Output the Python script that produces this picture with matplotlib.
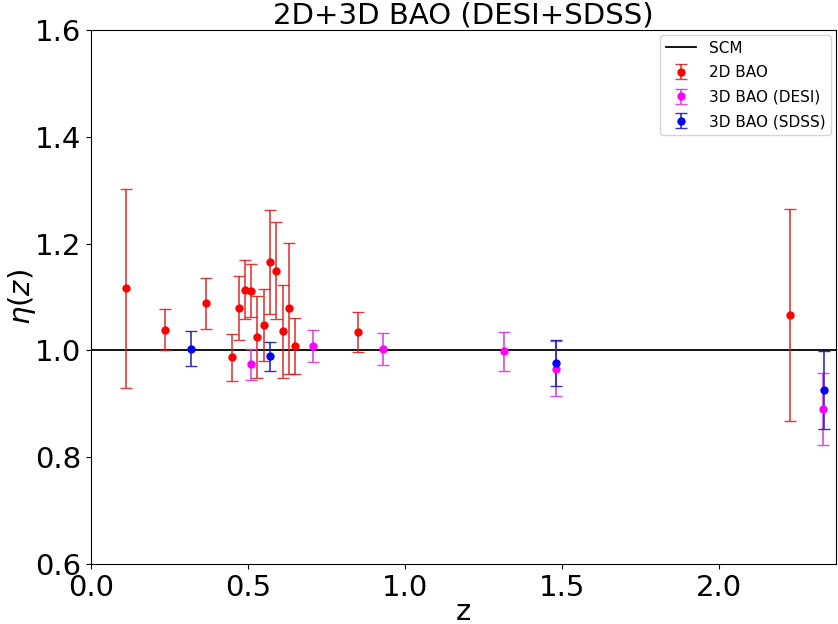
"""Eta(z) consistency test from 2D and 3D BAO measurements (DESI + SDSS)."""
import numpy as np
import matplotlib
matplotlib.use("Agg")
import matplotlib.pyplot as plt

# 2D BAO (angular) measurements
z_2d = [0.11, 0.235, 0.365, 0.45, 0.47, 0.49, 0.51, 0.53, 0.55, 0.57,
        0.59, 0.61, 0.63, 0.65, 0.85, 2.225]
eta_2d = [1.116, 1.039, 1.088, 0.987, 1.080, 1.114, 1.112, 1.025, 1.048, 1.166,
          1.149, 1.036, 1.079, 1.008, 1.034, 1.066]
err_2d = [0.186, 0.038, 0.047, 0.044, 0.060, 0.055, 0.049, 0.077, 0.067, 0.097,
          0.091, 0.087, 0.123, 0.052, 0.037, 0.199]

# 3D BAO from DESI
z_desi = [0.51, 0.706, 0.93, 1.317, 1.48, 2.33]
eta_desi = [0.974, 1.009, 1.002, 0.998, 0.966, 0.890]
err_desi = [0.029, 0.030, 0.030, 0.037, 0.051, 0.067]

# 3D BAO from SDSS
z_sdss = [0.32, 0.57, 1.48, 2.334]
eta_sdss = [1.003, 0.989, 0.976, 0.926]
err_sdss = [0.033, 0.027, 0.043, 0.073]

fig = plt.figure(figsize=(8.38, 6.24), dpi=100)
ax = fig.add_axes([91 / 838, 60 / 624, 745 / 838, 534 / 624])

ax.axhline(1.0, color="black", lw=1.3, label="SCM")
ax.errorbar(z_2d, eta_2d, yerr=err_2d, fmt="o", color="red", ms=5,
            ecolor=(0.85, 0.1, 0.1, 0.85), elinewidth=1.2, capsize=4, label="2D BAO")
ax.errorbar(z_desi, eta_desi, yerr=err_desi, fmt="o", color="magenta", ms=5,
            ecolor=(0.85, 0.2, 0.85, 0.9), elinewidth=1.2, capsize=4, label="3D BAO (DESI)")
ax.errorbar(z_sdss, eta_sdss, yerr=err_sdss, fmt="o", color="blue", ms=5,
            ecolor=(0.1, 0.1, 0.7, 0.9), elinewidth=1.2, capsize=4, label="3D BAO (SDSS)")

ax.set_xlim(0, 2.373)
ax.set_ylim(0.6, 1.6)
ax.set_xticks(np.arange(0, 2.01, 0.5))
ax.set_yticks(np.arange(0.6, 1.61, 0.2))
ax.tick_params(labelsize=21)
ax.set_xlabel("z", fontsize=21, labelpad=-3)
ax.set_ylabel(r"$\eta(z)$", fontsize=21, labelpad=-2)
ax.set_title("2D+3D BAO (DESI+SDSS)", fontsize=21, pad=5)
ax.legend(loc="upper right", fontsize=11, borderaxespad=0.3, labelspacing=0.62)

fig.savefig("out.png", dpi=100)
